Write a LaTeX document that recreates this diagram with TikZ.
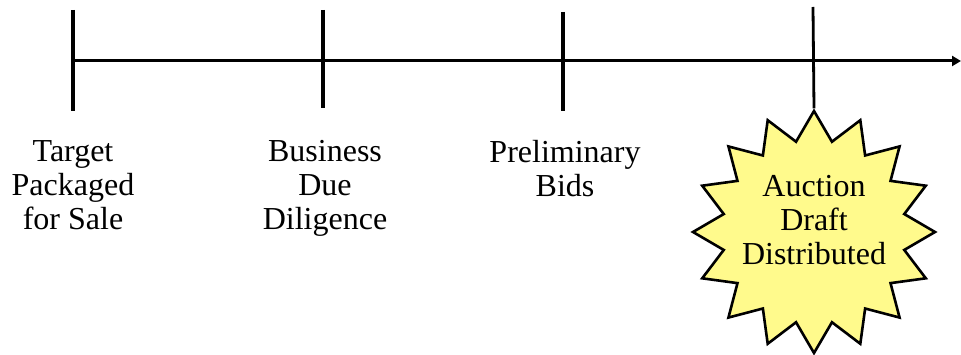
\documentclass[tikz,border=0pt]{standalone}
\usepackage{fontspec}
\setmainfont{Liberation Serif}
\usetikzlibrary{shapes.geometric,arrows.meta}
\definecolor{burstfill}{HTML}{FFFA8C}
\tikzset{
  axisline/.style={line width=3pt,-{Triangle[length=9pt,width=10pt]}},
  tickline/.style={line width=3.3pt},
  lbl/.style={align=center,font=\fontsize{32}{34}\selectfont,inner sep=0pt},
  burst/.style={star,star points=16,star point ratio=1.315,minimum size=242pt,inner sep=0pt,draw=black,line width=2.6pt,fill=burstfill}
}
\begin{document}
\begin{tikzpicture}[x=1pt,y=-1pt]
\useasboundingbox (0,0) rectangle (961,355);
\coordinate (start) at (73,61);
\coordinate (end) at (961,61);
\draw[axisline] (start) -- (end);
\coordinate (t1a) at (73,10);  \coordinate (t1b) at (73,111);
\coordinate (t2a) at (323,10); \coordinate (t2b) at (323,108);
\coordinate (t3a) at (563,12); \coordinate (t3b) at (563,111);
\coordinate (t4a) at (813,7);
\draw[tickline] (t1a) -- (t1b);
\draw[tickline] (t2a) -- (t2b);
\draw[tickline] (t3a) -- (t3b);
\node[burst] (star) at (814,232) {};
\draw[line width=2.8pt] (t4a) -- (star.north);
\node[lbl,anchor=base] (l1) at (73,230) {Target\\Packaged\\for Sale};
\node[lbl,anchor=base] (l2) at (325,230) {Business\\Due\\Diligence};
\node[lbl,anchor=base] (l3) at (565,197) {Preliminary\\Bids};
\node[lbl,anchor=base] (l4) at (814,265) {Auction\\Draft\\Distributed};
\end{tikzpicture}
\end{document}
